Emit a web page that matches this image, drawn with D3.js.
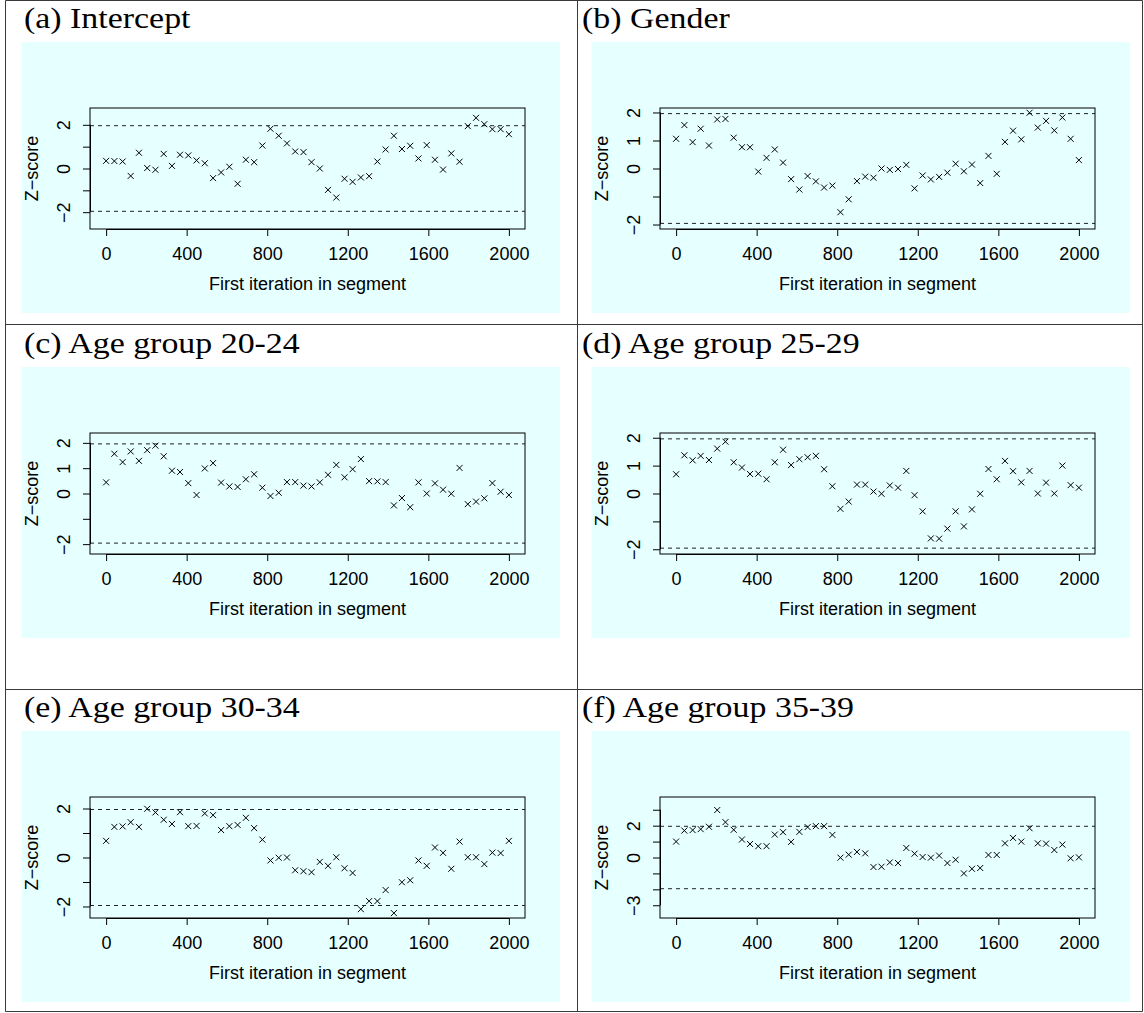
<!DOCTYPE html>
<html>
<head>
<meta charset="utf-8">
<script src="https://cdn.jsdelivr.net/npm/d3@7"></script>
<style>
  body { margin: 0; background: #fff; }
  svg { display: block; }
</style>
</head>
<body>
<svg id="fig" width="1144" height="1013"></svg>
<script>
// first iteration of each segment (geweke plot, 50 bins)
var iterations = [0, 41, 82, 122, 163, 204, 245, 286, 327, 367, 408, 449, 490, 531, 571, 612, 653, 694, 735, 776,
  816, 857, 898, 939, 980, 1020, 1061, 1102, 1143, 1184, 1224, 1265, 1306, 1347, 1388, 1429, 1469, 1510, 1551, 1592,
  1633, 1673, 1714, 1755, 1796, 1837, 1878, 1918, 1959, 2000];

// z-scores
var zIntercept = [0.35, 0.34, 0.32, -0.34, 0.72, 0.02, -0.06, 0.67, 0.12, 0.63, 0.60, 0.37, 0.24, -0.44, -0.18, 0.08, -0.70, 0.40, 0.29, 1.05,
  1.82, 1.50, 1.15, 0.78, 0.75, 0.29, 0.00, -0.98, -1.33, -0.47, -0.61, -0.41, -0.35, 0.32, 0.87, 1.50, 0.89, 1.04, 0.46, 1.07,
  0.40, -0.05, 0.69, 0.31, 1.94, 2.32, 2.03, 1.80, 1.80, 1.57];
var zGender = [1.06, 1.55, 0.94, 1.42, 0.82, 1.75, 1.77, 1.10, 0.76, 0.76, -0.11, 0.38, 0.68, 0.21, -0.38, -0.75, -0.27, -0.46, -0.68, -0.61,
  -1.56, -1.10, -0.45, -0.29, -0.33, 0.00, -0.05, -0.02, 0.13, -0.71, -0.25, -0.39, -0.30, -0.15, 0.17, -0.10, 0.14, -0.52, 0.45, -0.19,
  0.95, 1.35, 1.04, 1.99, 1.46, 1.70, 1.36, 1.82, 1.06, 0.30];
var zAge2024 = [0.44, 1.57, 1.24, 1.66, 1.29, 1.71, 1.89, 1.47, 0.90, 0.85, 0.41, -0.06, 0.99, 1.20, 0.43, 0.28, 0.26, 0.56, 0.76, 0.23,
  -0.10, 0.03, 0.45, 0.45, 0.31, 0.28, 0.44, 0.74, 1.13, 0.64, 0.96, 1.36, 0.49, 0.48, 0.45, -0.47, -0.18, -0.54, 0.44, 0.00,
  0.40, 0.15, -0.01, 1.01, -0.42, -0.32, -0.19, 0.41, 0.07, -0.06];
var zAge2529 = [0.69, 1.37, 1.19, 1.35, 1.20, 1.61, 1.86, 1.12, 0.93, 0.70, 0.71, 0.51, 1.12, 1.57, 1.02, 1.23, 1.30, 1.35, 0.87, 0.26,
  -0.55, -0.29, 0.32, 0.32, 0.07, -0.01, 0.29, 0.21, 0.81, -0.06, -0.64, -1.61, -1.62, -1.26, -0.64, -1.18, -0.57, -0.01, 0.88, 0.51,
  1.17, 0.80, 0.40, 0.81, 0.00, 0.39, 0.00, 1.00, 0.30, 0.21];
var zAge3034 = [0.68, 1.25, 1.27, 1.44, 1.25, 1.99, 1.84, 1.54, 1.37, 1.85, 1.28, 1.29, 1.80, 1.73, 1.12, 1.28, 1.33, 1.62, 1.20, 0.73,
  -0.12, -0.01, 0.00, -0.52, -0.56, -0.60, -0.18, -0.34, 0.01, -0.44, -0.63, -2.11, -1.78, -1.78, -1.33, -2.27, -1.01, -0.93, -0.12, -0.34,
  0.41, 0.19, -0.46, 0.65, 0.01, 0.01, -0.27, 0.20, 0.18, 0.68];
var zAge3539 = [1.00, 1.69, 1.72, 1.78, 1.93, 2.98, 2.22, 1.74, 1.13, 0.85, 0.71, 0.71, 1.44, 1.59, 0.98, 1.61, 1.91, 1.97, 1.97, 1.42,
  -0.01, 0.18, 0.35, 0.26, -0.60, -0.58, -0.31, -0.35, 0.60, 0.24, 0.03, -0.01, 0.12, -0.35, -0.14, -1.00, -0.71, -0.66, 0.16, 0.16,
  0.89, 1.23, 1.00, 1.84, 0.89, 0.87, 0.47, 0.81, -0.05, 0.01];

var panelTitles = ["(a) Intercept", "(b) Gender", "(c) Age group 20-24", "(d) Age group 25-29", "(e) Age group 30-34", "(f) Age group 35-39"];
var panelSeries = [zIntercept, zGender, zAge2024, zAge2529, zAge3034, zAge3539];
var yLimits = [2.77, 2.16, 2.39, 2.17, 2.47, 3.8];   // symmetric y range of each plot
var yTicks = [[-2, -1, 0, 1, 2], [-2, -1, 0, 1, 2], [-2, -1, 0, 1, 2], [-2, -1, 0, 1, 2], [-2, -1, 0, 1, 2], [-3, -2, -1, 0, 1, 2, 3]];
var yTickLabels = [[-2, 0, 2], [-2, 0, 1, 2], [-2, 0, 1, 2], [-2, 0, 1, 2], [-2, 0, 2], [-3, 0, 2]];
var xTicks = [0, 400, 800, 1200, 1600, 2000];
var critical = 1.96;

var svg = d3.select("#fig");

// table grid
var gridColor = "#3a3a3a";
var vLines = [5.5, 577.5, 1142.5];
var hLines = [0.5, 324.5, 689.5, 1011.5];
vLines.forEach(function(x) {
  svg.append("line").attr("x1", x).attr("x2", x).attr("y1", 0.5).attr("y2", 1011.5)
    .attr("stroke", gridColor).attr("stroke-width", 1);
});
hLines.forEach(function(y) {
  svg.append("line").attr("x1", 5.5).attr("x2", 1142.5).attr("y1", y).attr("y2", y)
    .attr("stroke", gridColor).attr("stroke-width", 1);
});

var colX = [21.5, 591.5];
var rowY = [42, 367, 731];
var titleX = [24, 582];
var titleY = [28.3, 353.3, 717.3];

var devW = 538.5, devH = 271;
var box = {left: 68.5, top: 66, width: 435, height: 121};
var sans = "'Liberation Sans', Arial, Helvetica, sans-serif";

panelTitles.forEach(function(title, k) {
  var col = k % 2, row = Math.floor(k / 2);

  // caption in serif (LaTeX look)
  svg.append("text")
    .attr("transform", "translate(" + titleX[col] + "," + titleY[row] + ") scale(1.13,1)")
    .attr("font-family", "'Liberation Serif', 'Times New Roman', serif")
    .attr("font-size", 30)
    .attr("fill", "#000")
    .text(title);

  var g = svg.append("g")
    .attr("transform", "translate(" + colX[col] + "," + rowY[row] + ")");

  g.append("rect")
    .attr("width", devW).attr("height", devH)
    .attr("fill", "#e6ffff");

  var plot = g.append("g")
    .attr("transform", "translate(" + box.left + "," + box.top + ")");

  var x = d3.scaleLinear().domain([-80, 2080]).range([0, box.width]);
  var y = d3.scaleLinear().domain([-yLimits[k], yLimits[k]]).range([box.height, 0]);

  // dashed lines at +-1.96
  plot.selectAll("line.crit")
    .data([critical, -critical])
    .enter().append("line")
    .attr("class", "crit")
    .attr("x1", 0).attr("x2", box.width)
    .attr("y1", function(d) { return y(d); })
    .attr("y2", function(d) { return y(d); })
    .attr("stroke", "#222")
    .attr("stroke-width", 1)
    .attr("stroke-dasharray", "4,4");

  // points drawn as x (pch = 4)
  var pts = iterations.map(function(it, i) { return [it, panelSeries[k][i]]; });
  plot.selectAll("path.pt")
    .data(pts)
    .enter().append("path")
    .attr("class", "pt")
    .attr("transform", function(d) { return "translate(" + x(d[0]) + "," + y(d[1]) + ")"; })
    .attr("d", "M-3,-3L3,3M-3,3L3,-3")
    .attr("stroke", "#000")
    .attr("stroke-width", 1)
    .attr("fill", "none");

  // box
  plot.append("rect")
    .attr("width", box.width).attr("height", box.height)
    .attr("fill", "none").attr("stroke", "#000").attr("stroke-width", 1);

  // x axis
  var xAxis = plot.append("g")
    .attr("transform", "translate(0," + box.height + ")")
    .call(d3.axisBottom(x).tickValues(xTicks).tickSize(7).tickSizeOuter(0).tickFormat(d3.format("d")));
  xAxis.select(".domain").attr("d", "M" + x(0) + ",0.5H" + x(2000)).attr("stroke", "#000");
  xAxis.selectAll(".tick line").attr("stroke", "#000");
  xAxis.selectAll(".tick text")
    .attr("y", 31).attr("dy", 0)
    .attr("font-family", sans).attr("font-size", 18).attr("fill", "#000");

  // y axis
  var labs = yTickLabels[k];
  var yAxis = plot.append("g")
    .call(d3.axisLeft(y).tickValues(yTicks[k]).tickSize(7).tickSizeOuter(0)
      .tickFormat(function(d) { return labs.indexOf(d) >= 0 ? d3.format("d")(d) : ""; }));
  var yt = yTicks[k];
  yAxis.select(".domain").attr("d", "M0.5," + y(yt[0]) + "V" + y(yt[yt.length - 1])).attr("stroke", "#000");
  yAxis.selectAll(".tick line").attr("stroke", "#000");
  yAxis.selectAll(".tick text")
    .attr("x", 0).attr("dy", 0)
    .attr("text-anchor", "middle")
    .attr("transform", "translate(-20,0) rotate(-90)")
    .attr("font-family", sans).attr("font-size", 18).attr("fill", "#000");
  yAxis.attr("font-family", null).attr("font-size", null);
  xAxis.attr("font-family", null).attr("font-size", null);

  // axis titles
  plot.append("text")
    .attr("x", box.width / 2).attr("y", box.height + 61)
    .attr("text-anchor", "middle")
    .attr("font-family", sans).attr("font-size", 18)
    .text("First iteration in segment");

  plot.append("text")
    .attr("transform", "translate(-52.5," + (box.height / 2) + ") rotate(-90)")
    .attr("text-anchor", "middle")
    .attr("font-family", sans).attr("font-size", 18)
    .text("Z\u2212score");
});
</script>
</body>
</html>
